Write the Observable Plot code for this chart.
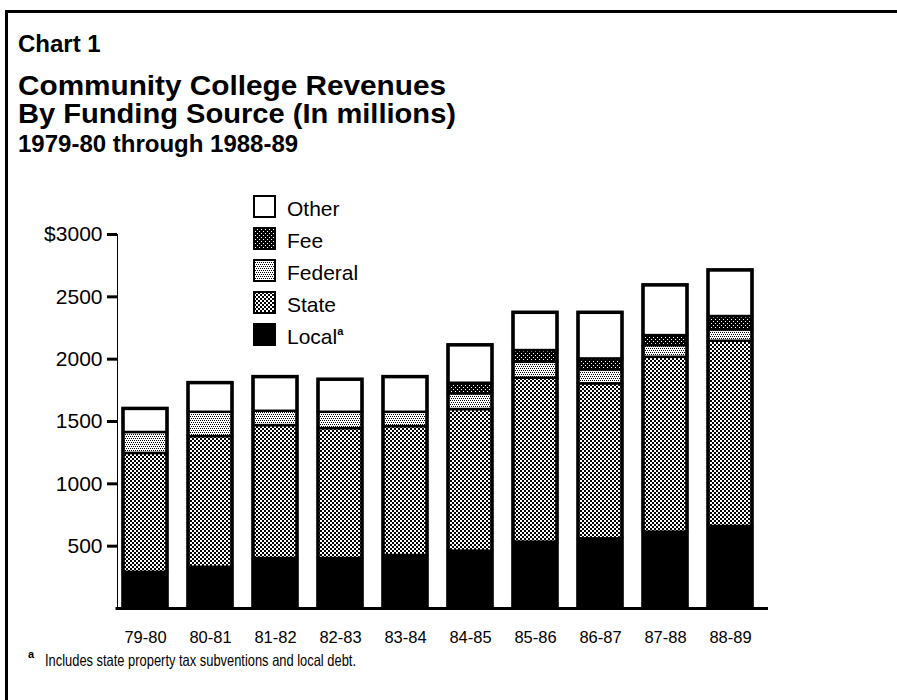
<!DOCTYPE html>
<html>
<head>
<meta charset="utf-8">
<script src="https://cdn.jsdelivr.net/npm/d3@7"></script>
<script src="https://cdn.jsdelivr.net/npm/@observablehq/plot@0.6"></script>
<style>
  html, body { margin: 0; padding: 0; background: #fff; }
  body { width: 897px; height: 700px; position: relative; overflow: hidden;
         font-family: "Liberation Sans", Arial, Helvetica, sans-serif; color: #000; }
  .overlay { position: absolute; left: 0; top: 0; pointer-events: none; }
  #chart { position: absolute; left: 0; top: 180px; }
  #chart svg g[aria-label="y-axis tick"] { stroke-width: 3px; }
  #chart svg g[aria-label="y-axis tick label"] { font-size: 21px; }
  #chart svg g[aria-label="x-axis tick label"] { font-size: 16.5px; }
  #chart svg g[aria-label="frame"] { stroke-width: 3px; }
</style>
</head>
<body>
<div id="chart"></div>
<svg class="overlay" id="over" width="897" height="700"></svg>
<script>
// Revenue by funding source, in millions of dollars
const years = ["79-80", "80-81", "81-82", "82-83", "83-84", "84-85", "85-86", "86-87", "87-88", "88-89"];
const local   = [290, 331, 401, 401, 425, 460, 532, 559, 612, 658];
const state   = [954, 1048, 1066, 1042, 1034, 1136, 1315, 1243, 1403, 1486];
const federal = [168, 195, 115, 131, 115, 126, 128, 112, 94, 91];
const fee     = [0, 0, 0, 0, 0, 85, 94, 88, 80, 107];
const other   = [189, 234, 274, 261, 282, 304, 303, 370, 403, 370];

const yTicks = [500, 1000, 1500, 2000, 2500, 3000];

// stacking order, bottom to top
const sources = [
  {name: "Local", values: local, fill: "#000"},
  {name: "State", values: state, fill: "url(#pat-state)"},
  {name: "Federal", values: federal, fill: "url(#pat-federal)"},
  {name: "Fee", values: fee, fill: "url(#pat-fee)"},
  {name: "Other", values: other, fill: "#fff"}
];

const rows = [];
sources.forEach(s => years.forEach((y, i) => rows.push({year: y, source: s.name, value: s.values[i], fill: s.fill})));
const totals = years.map((y, i) => ({year: y, total: d3.sum(sources, s => s.values[i])}));

// shared halftone patterns
const over = d3.select("#over");
const defs = over.append("defs");
function pattern(id, size, bg, cells, cellColor) {
  const p = defs.append("pattern").attr("id", id).attr("width", size).attr("height", size)
    .attr("patternUnits", "userSpaceOnUse");
  p.append("rect").attr("width", size).attr("height", size).attr("fill", bg);
  cells.forEach(([x, y, w, h]) => p.append("rect").attr("x", x).attr("y", y).attr("width", w).attr("height", h).attr("fill", cellColor));
}
pattern("pat-state", 4, "#000", [[0, 0, 2, 2], [2, 2, 2, 2]], "#fff");
pattern("pat-federal", 4, "#fff", [[0, 0, 1, 1], [2, 0, 1, 1], [1, 2, 1, 1], [3, 2, 1, 1]], "#000");
pattern("pat-fee", 4, "#000", [[1, 1, 1, 1], [3, 3, 1, 1]], "#fff");

const chart = Plot.plot({
  width: 897,
  height: 470,
  marginTop: 54,
  marginBottom: 42,
  marginLeft: 117,
  marginRight: 139,
  style: {fontFamily: '"Liberation Sans", Arial, Helvetica, sans-serif', fontSize: "16px", color: "#000", background: "none", overflow: "visible"},
  x: {domain: years, paddingInner: 0.32, paddingOuter: 0.09, label: null, tickSize: 0, tickPadding: 23},
  y: {domain: [0, 3000], ticks: yTicks, tickFormat: d => d === 3000 ? "$3000" : String(d), label: null, tickSize: 10, tickPadding: 5, line: true},
  marks: [
    Plot.barY(rows, {x: "year", y: "value", z: "source", fill: "fill", stroke: "#000", strokeWidth: 2.5}),
    Plot.barY(totals, {x: "year", y: "total", fill: "none", stroke: "#000", strokeWidth: 3.5}),
    Plot.ruleY([0], {stroke: "#000", strokeWidth: 3, insetLeft: -1.5, insetRight: -10})
  ]
});
document.getElementById("chart").append(chart);

// page frame
over.append("path").attr("d", "M6.5,900V11.5H900").attr("fill", "none").attr("stroke", "#000").attr("stroke-width", 3);

// headings
const heads = [
  {text: "Chart 1", y: 52, size: 24},
  {text: "Community College Revenues", y: 95, size: 28, width: 428},
  {text: "By Funding Source (In millions)", y: 123, size: 28, width: 438},
  {text: "1979-80 through 1988-89", y: 152, size: 24}
];
heads.forEach(h => {
  const t = over.append("text").attr("x", 18).attr("y", h.y).attr("font-size", h.size)
    .attr("font-weight", "bold").text(h.text);
  if (h.width) t.attr("textLength", h.width).attr("lengthAdjust", "spacingAndGlyphs");
});

// legend, top entry first
const legend = over.append("g").attr("font-size", 21);
sources.slice().reverse().forEach((s, i) => {
  const top = 196 + i * 32;
  legend.append("rect").attr("x", 254).attr("y", top).attr("width", 21).attr("height", 21)
    .attr("fill", s.fill).attr("stroke", "#000").attr("stroke-width", 2);
  const t = legend.append("text").attr("x", 287).attr("y", top + 20).text(s.name);
  if (s.name === "Local") t.append("tspan").attr("font-size", 11).attr("font-weight", "bold").attr("dy", -9).text("a");
});

// footnote
const note = over.append("text").attr("x", 28).attr("y", 666);
note.append("tspan").attr("font-size", 11).attr("font-weight", "bold").attr("dy", -8).text("a");
note.append("tspan").attr("x", 45).attr("dy", 8).attr("font-size", 16.5)
  .attr("textLength", 311).attr("lengthAdjust", "spacingAndGlyphs")
  .text("Includes state property tax subventions and local debt.");
</script>
</body>
</html>
